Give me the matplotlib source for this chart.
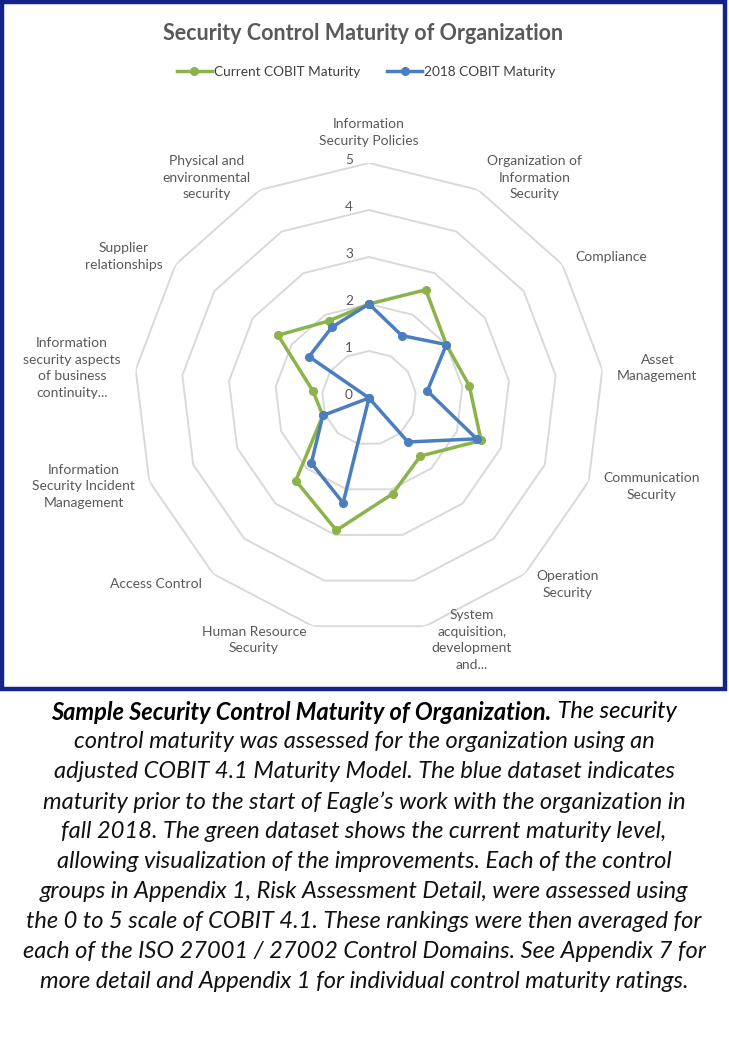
import numpy as np
import matplotlib as mpl
mpl.use('Agg')
import matplotlib.pyplot as plt
from matplotlib.patches import Rectangle

plt.rcParams['font.family'] = ['Lato', 'DejaVu Sans']

# radar data, clockwise from the top
categories = ['Information\nSecurity Policies', 'Organization of\nInformation\nSecurity',
              'Compliance', 'Asset\nManagement', 'Communication\nSecurity',
              'Operation\nSecurity', 'System\nacquisition,\ndevelopment\nand...',
              'Human Resource\nSecurity', 'Access Control',
              'Information\nSecurity Incident\nManagement',
              'Information\nsecurity aspects\nof business\ncontinuity...',
              'Supplier\nrelationships', 'Physical and\nenvironmental\nsecurity']
current = [2.0, 2.6, 2.0, 2.15, 2.55, 1.65, 2.1, 2.9, 2.35, 1.05, 1.2, 2.35, 1.85]
cobit2018 = [2.0, 1.5, 2.0, 1.25, 2.45, 1.25, 0.0, 2.3, 1.85, 1.05, 0.0, 1.55, 1.7]
ticks = [0, 1, 2, 3, 4, 5]

title = 'Security Control Maturity of Organization'
caption_bold = 'Sample Security Control Maturity of Organization.'
caption_lines = [
    ' The security',
    'control maturity was assessed for the organization using an',
    'adjusted COBIT 4.1 Maturity Model. The blue dataset indicates',
    'maturity prior to the start of Eagle\u2019s work with the organization in',
    'fall 2018. The green dataset shows the current maturity level,',
    'allowing visualization of the improvements. Each of the control',
    'groups in Appendix 1, Risk Assessment Detail, were assessed using',
    'the 0 to 5 scale of COBIT 4.1. These rankings were then averaged for',
    'each of the ISO 27001 / 27002 Control Domains. See Appendix 7 for',
    'more detail and Appendix 1 for individual control maturity ratings.',
]

green = '#8bb34a'
blue = '#4a7ebf'
gray = '#595959'
gridc = '#d9d9d9'

W, H = 729, 1052
fig = plt.figure(figsize=(W / 100, H / 100), dpi=100)

# chart frame
fig.patches.append(Rectangle((2 / W, 1 - 689 / H), 723 / W, 687 / H, transform=fig.transFigure,
                             fill=False, edgecolor='#14238a', lw=3.2))

cx, cy, R = 369, 398, 235
ax = fig.add_axes([(cx - R) / W, (H - cy - R) / H, 2 * R / W, 2 * R / H], projection='polar')
ax.set_theta_offset(np.pi / 2)
ax.set_theta_direction(-1)
ax.set_ylim(0, 5)
ax.grid(False)
ax.spines['polar'].set_visible(False)
ax.set_xticks([])
ax.set_yticks([])
ax.patch.set_alpha(0)

n = len(categories)
theta = np.linspace(0, 2 * np.pi, n, endpoint=False)
tc = np.append(theta, theta[0])

for r in ticks[1:]:
    ax.plot(tc, [r] * (n + 1), color=gridc, lw=1.4, zorder=1)

ax.plot(tc, current + current[:1], color=green, lw=2.5, marker='o', ms=5.5,
        label='Current COBIT Maturity', zorder=3, clip_on=False)
ax.plot(tc, cobit2018 + cobit2018[:1], color=blue, lw=2.5, marker='o', ms=5.5,
        label='2018 COBIT Maturity', zorder=4, clip_on=False)

for v in ticks:
    ax.annotate(str(v), xy=(0, v), xytext=(-20, 3), textcoords='offset pixels',
                ha='center', va='center', fontsize=9.8, color=gray)

lab_fs = 10
for k, lab in enumerate(categories):
    s, c = np.sin(theta[k]), np.cos(theta[k])
    if abs(s) < 0.05:
        ax.annotate(lab, xy=(theta[k], 5), xytext=(0, 16), textcoords='offset pixels',
                    ha='center', va='bottom', multialignment='center', fontsize=lab_fs,
                    color=gray, linespacing=1.45)
        continue
    dx = np.sign(s) * 4 + 11 * s
    dy = 14 * c
    ax.annotate(lab, xy=(theta[k], 5), xytext=(dx, dy), textcoords='offset pixels',
                ha='left' if s > 0 else 'right', va='center', multialignment='center',
                fontsize=lab_fs, color=gray, linespacing=1.45)

fig.text(0.4985, 1 - 33 / H, title, ha='center', va='center', fontsize=15.5,
         color=gray, weight='bold')
fig.legend(loc='center', bbox_to_anchor=(0.502, 1 - 72 / H), ncol=2, frameon=False,
           fontsize=9.8, labelcolor='#404040', handlelength=2.6, handletextpad=0.1,
           columnspacing=2.0)

# caption
fig.canvas.draw()
rend = fig.canvas.get_renderer()
fs = 17
y0 = 1 - 712 / H
tb = fig.text(0, y0, caption_bold, fontsize=fs, style='italic', weight='bold', va='center')
tr = fig.text(0, y0, caption_lines[0], fontsize=fs, style='italic', va='center')
wb = tb.get_window_extent(rend).width
wr = tr.get_window_extent(rend).width
x0 = (364 - (wb + wr) / 2) / W
tb.set_x(x0)
tr.set_x(x0 + wb / W)
for i, line in enumerate(caption_lines[1:], start=1):
    fig.text(364 / W, y0 - i * 30 / H, line, fontsize=fs, style='italic', ha='center',
             va='center', color='#111111')

fig.savefig('out.png', dpi=100)
